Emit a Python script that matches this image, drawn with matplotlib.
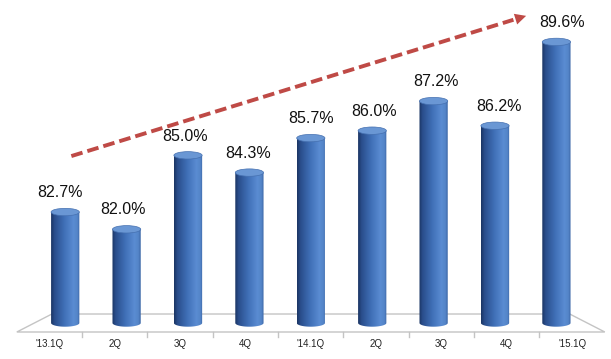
import numpy as np
import matplotlib
matplotlib.use("Agg")
import matplotlib.pyplot as plt
from matplotlib.patches import Polygon, Ellipse
from matplotlib.colors import LinearSegmentedColormap

# quarterly values
quarters = ["'13.1Q", "2Q", "3Q", "4Q", "'14.1Q", "2Q", "3Q", "4Q", "'15.1Q"]
values = [82.7, 82.0, 85.0, 84.3, 85.7, 86.0, 87.2, 86.2, 89.6]
labels = ["82.7%", "82.0%", "85.0%", "84.3%", "85.7%", "86.0%", "87.2%", "86.2%", "89.6%"]

# trend arrow, from above the first bar to the left of the last label
arrow_start = (0.1, 84.97)
arrow_end = (7.55, 90.69)

base = 78.2          # where the cylinders stand (middle of the floor)
bar_w = 0.46         # cylinder width in category units
cap_h = 0.30         # height of the elliptic cap in value units
front_k, back_k = 1.064, 0.937   # fake perspective of the floor
depth = 0.365
mid = (len(values) - 1) / 2

plt.rcParams['font.family'] = ['Liberation Sans', 'DejaVu Sans']

fig = plt.figure(figsize=(6.11, 3.59), dpi=100)
ax = fig.add_axes([0, 0, 1, 1])
ax.set_xlim(-1.062, 8.889)
ax.set_ylim(76.74, 91.30)
ax.axis('off')

# floor
n = len(values)
fl = mid - (n / 2) * front_k
fr = mid + (n / 2) * front_k
bl = mid - (n / 2) * back_k
br = mid + (n / 2) * back_k
floor = Polygon([(fl, base - depth), (fr, base - depth), (br, base + depth), (bl, base + depth)],
                closed=True, facecolor='white', edgecolor='#c4c4c4', lw=1.0, zorder=1)
ax.add_patch(floor)
for k in range(1, n):
    xt = mid + (k - n / 2) * front_k
    ax.plot([xt, xt], [base - depth, base - depth - 0.2], color='#c4c4c4', lw=1.0, zorder=1)

# tick labels on the front edge
for i, q in enumerate(quarters):
    ax.text(mid + (i - mid) * front_k, base - depth - 0.48, q, ha='center', va='center',
            fontsize=7, color='#222222')

cmap = LinearSegmentedColormap.from_list('cyl', [
    (0.0, '#1b3564'), (0.12, '#2a4e8c'), (0.45, '#3f6fb6'),
    (0.78, '#5a8cd2'), (0.92, '#5485c8'), (1.0, '#3c66a6')])
grad = np.linspace(0, 1, 64).reshape(1, -1)

for i, v in enumerate(values):
    x0, x1 = i - bar_w / 2, i + bar_w / 2
    # body outline: flat top, rounded (half ellipse) bottom
    t = np.linspace(0, np.pi, 40)
    arc = np.column_stack([i - bar_w / 2 * np.cos(t), base - cap_h / 2 * np.sin(t)])
    pts = np.vstack([[[x1, v], [x0, v]], arc])
    body = Polygon(pts, closed=True, facecolor='none', edgecolor='none', transform=ax.transData)
    ax.add_patch(body)
    im = ax.imshow(grad, cmap=cmap, aspect='auto', extent=[x0, x1, base - cap_h, v],
                   interpolation='bilinear', zorder=2)
    im.set_clip_path(body)
    cap = Ellipse((i, v), bar_w, cap_h, facecolor='#6a97d4', edgecolor='#4570b0', lw=0.5, zorder=3)
    ax.add_patch(cap)
    ax.text(i + (i - mid) * 0.022, v + cap_h / 2 + 0.33, labels[i], ha='center', va='bottom',
            fontsize=11.5, color='#111111')

# red dashed trend arrow
arrow_col = '#bf4a46'
slope = (arrow_end[1] - arrow_start[1]) / (arrow_end[0] - arrow_start[0])
ax.plot([arrow_start[0], arrow_end[0] - 0.25], [arrow_start[1], arrow_end[1] - 0.25 * slope],
        color=arrow_col, lw=2.8, dashes=(3.0, 1.3), zorder=4, solid_capstyle='butt')
ax.annotate('', xy=arrow_end, xytext=(arrow_end[0] - 0.3, arrow_end[1] - 0.3 * slope),
            arrowprops=dict(arrowstyle='-|>', color=arrow_col, mutation_scale=20, lw=0), zorder=5)

fig.savefig('out.png', dpi=100)
